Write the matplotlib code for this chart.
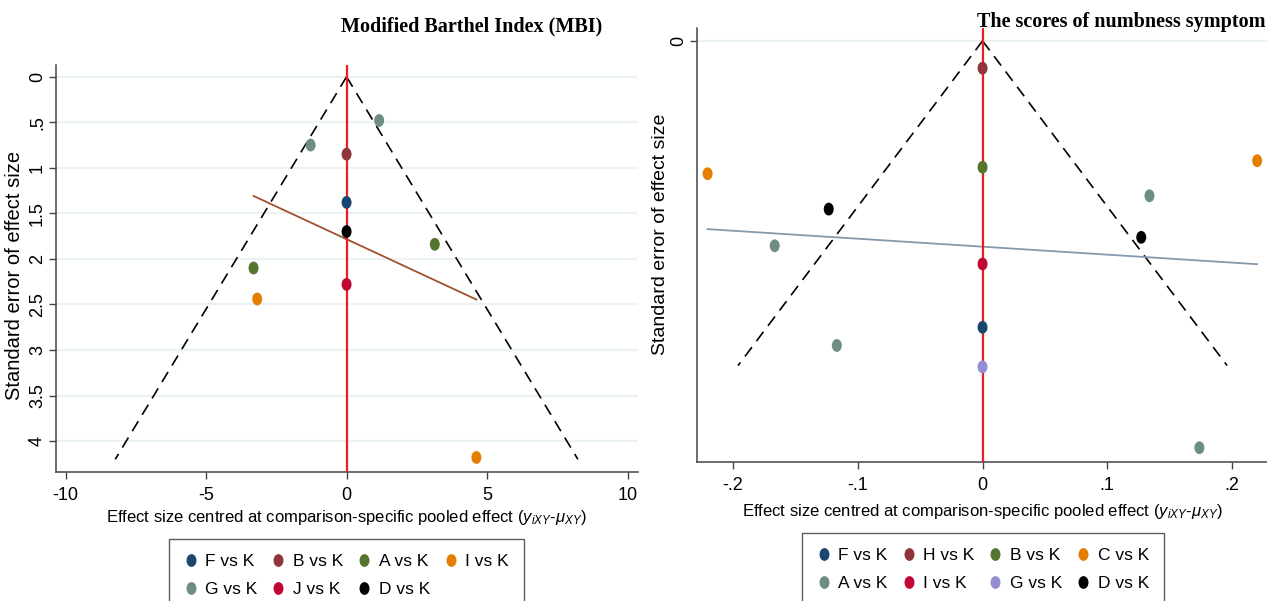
import numpy as np
import matplotlib
matplotlib.use("Agg")
import matplotlib.pyplot as plt
from matplotlib.markers import MarkerStyle
from matplotlib.transforms import Affine2D
from matplotlib.lines import Line2D

plt.rcParams['font.family'] = ['Liberation Sans', 'DejaVu Sans']
plt.rcParams['mathtext.fontset'] = 'custom'
plt.rcParams['mathtext.rm'] = 'Liberation Sans'
plt.rcParams['mathtext.it'] = 'Liberation Sans:italic'

# left panel: Modified Barthel Index
mbi_legend = ["F vs K", "B vs K", "A vs K", "I vs K", "G vs K", "J vs K", "D vs K"]
mbi_colors = ["#1a476f", "#90353b", "#55752f", "#e37e00", "#6e8e84", "#c10534", "#000000"]
mbi_comp = ["G vs K", "G vs K", "B vs K", "F vs K", "D vs K", "A vs K", "A vs K", "J vs K", "I vs K", "I vs K"]
mbi_effect = [1.16, -1.28, 0, 0, 0, 3.14, -3.31, 0, -3.18, 4.62]
mbi_se = [0.48, 0.75, 0.85, 1.38, 1.70, 1.84, 2.10, 2.28, 2.44, 4.18]
mbi_funnel_se = 4.2
mbi_xticks = [-10, -5, 0, 5, 10]
mbi_xlabels = ["-10", "-5", "0", "5", "10"]
mbi_yticks = [0, 0.5, 1, 1.5, 2, 2.5, 3, 3.5, 4]
mbi_ylabels = ["0", ".5", "1", "1.5", "2", "2.5", "3", "3.5", "4"]

# right panel: numbness symptom scores
numb_legend = ["F vs K", "H vs K", "B vs K", "C vs K", "A vs K", "I vs K", "G vs K", "D vs K"]
numb_colors = ["#1a476f", "#90353b", "#55752f", "#e37e00", "#6e8e84", "#c10534", "#938dd2", "#000000"]
numb_comp = ["H vs K", "C vs K", "C vs K", "B vs K", "A vs K", "D vs K", "D vs K", "A vs K",
             "I vs K", "F vs K", "A vs K", "G vs K", "A vs K"]
numb_effect = [0, -0.2204, 0.2201, 0, 0.1338, -0.1233, 0.1272, -0.1666, 0, 0, -0.1168, 0, 0.1738]
numb_se = [0.0084, 0.0409, 0.0369, 0.0389, 0.0477, 0.0518, 0.0605, 0.0631, 0.0687, 0.0882,
           0.0938, 0.1004, 0.1253]
numb_funnel_se = 0.1
numb_xticks = [-0.2, -0.1, 0, 0.1, 0.2]
numb_xlabels = ["-.2", "-.1", "0", ".1", ".2"]

oval = MarkerStyle('o', transform=Affine2D().scale(0.78, 1.0))
xlab = r"Effect size centred at comparison-specific pooled effect ($y_{iXY}$-$\mu_{XY}$)"


def funnel(ax, comp, effect, se, legend, colors, funnel_se, fit_color):
    effect = np.array(effect)
    se = np.array(se)
    s = np.linspace(0, funnel_se, 2)
    ax.plot(-1.96 * s, s, color="black", lw=1.2, ls=(0, (7, 4.5)), zorder=2)
    ax.plot(1.96 * s, s, color="black", lw=1.2, ls=(0, (7, 4.5)), zorder=2)
    # linear fit of se on centred effect
    b, a = np.polyfit(effect, se, 1)
    xs = np.array([effect.min(), effect.max()])
    ax.plot(xs, a + b * xs, color=fit_color, lw=1.3, zorder=2)
    ax.axvline(0, color="#ee1c25", lw=1.6, zorder=3)
    cmap = dict(zip(legend, colors))
    for c, x, y in zip(comp, effect, se):
        ax.scatter(x, y, s=85, marker=oval, color=cmap[c], edgecolors="none", zorder=4)
    handles = [Line2D([], [], ls="none", marker=oval, markersize=9.2, color=col, markeredgewidth=0)
               for col in colors]
    # legend fills by column, so reorder to read row by row (2 rows, 4 columns)
    order = [i for c in range(4) for i in (c, c + 4) if i < len(legend)]
    return [handles[i] for i in order], [legend[i] for i in order]


def style(ax):
    for sp in ["top", "right"]:
        ax.spines[sp].set_visible(False)
    for sp in ["left", "bottom"]:
        ax.spines[sp].set_color("#444444")
        ax.spines[sp].set_linewidth(1.1)
    ax.tick_params(direction="out", length=5, width=1.0, color="#444444", labelsize=13)
    ax.tick_params(axis="x", pad=6)
    ax.tick_params(axis="y", pad=2)


leg_kw = dict(ncol=4, loc="upper center", frameon=True, fancybox=False, fontsize=12.5,
              edgecolor="#333333", handlelength=0.75, handletextpad=0.45, columnspacing=0.85,
              borderpad=0.85, labelspacing=0.75, borderaxespad=0)

fig = plt.figure(figsize=(12.67, 6.01), dpi=100)

# left
ax1 = fig.add_axes([0.044, 0.2146, 0.4595, 0.6774])
h1, l1 = funnel(ax1, mbi_comp, mbi_effect, mbi_se, mbi_legend, mbi_colors, mbi_funnel_se, "#a0522d")
ax1.set_xlim(-10.35, 10.37)
ax1.set_ylim(4.34, -0.13)
ax1.set_xticks(mbi_xticks, mbi_xlabels)
ax1.set_yticks(mbi_yticks, mbi_ylabels)
for t in ax1.get_yticklabels():
    t.set_rotation(90)
    t.set_va("center")
ax1.yaxis.grid(True, color="#eaf2f3", lw=1.6)
ax1.set_axisbelow(True)
style(ax1)
ax1.set_xlabel(xlab, fontsize=12, labelpad=3)
ax1.set_ylabel("Standard error of effect size", fontsize=14.5)
ax1.yaxis.set_label_coords(-0.054, 0.482)
fig.text(472 / 1267, 1 - 26 / 601, "Modified Barthel Index (MBI)", family="Liberation Serif",
         fontweight="bold", fontsize=14.5, ha="center", va="center")
fig.legend(h1, l1, bbox_to_anchor=(346.5 / 1267, 1 - 539 / 601), **leg_kw)

# right
ax2 = fig.add_axes([0.5504, 0.2318, 0.4496, 0.7212])
h2, l2 = funnel(ax2, numb_comp, numb_effect, numb_se, numb_legend, numb_colors, numb_funnel_se, "#8499ad")
ax2.set_xlim(-0.2286, 0.228)
ax2.set_ylim(0.1296, -0.0039)
ax2.set_xticks(numb_xticks, numb_xlabels)
ax2.set_yticks([0], ["0"])
for t in ax2.get_yticklabels():
    t.set_rotation(90)
    t.set_va("center")
ax2.yaxis.grid(True, color="#eaf2f3", lw=1.6)
ax2.set_axisbelow(True)
style(ax2)
ax2.set_xlabel(xlab, fontsize=12, labelpad=6)
ax2.set_ylabel("Standard error of effect size", fontsize=14)
ax2.yaxis.set_label_coords(-0.05, 0.525)
fig.text(977 / 1267, 1 - 21.7 / 601, "The scores of numbness symptom", family="Liberation Serif",
         fontweight="bold", fontsize=14.5, ha="left", va="center")
fig.legend(h2, l2, bbox_to_anchor=(983 / 1267, 1 - 533 / 601), **leg_kw)

fig.savefig("out.png", dpi=100)
